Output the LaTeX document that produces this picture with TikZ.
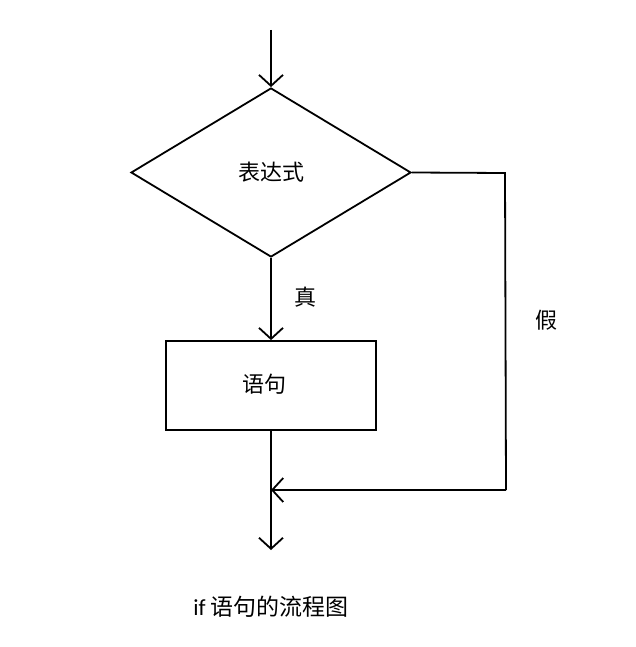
\documentclass[tikz,border=0pt]{standalone}
\usepackage{fontspec}
\setmainfont{Carlito}
\newfontfamily\cjk{Noto Sans CJK SC}
\usetikzlibrary{arrows.meta,shapes.geometric}
\begin{document}
\begin{tikzpicture}[x=1pt,y=-1pt,
  line/.style={line width=1.8pt},
  arr/.style={line, -{Straight Barb[length=11pt,width=24pt,line width=1.8pt]}},
  lbl/.style={font=\cjk\fontsize{22}{26}\selectfont, inner sep=0pt}]
\useasboundingbox (0,0) rectangle (635,647);
% nodes
\coordinate (start) at (271,30);
\node[line, draw, diamond, aspect=1.657, minimum width=280pt, minimum height=169pt, inner sep=0pt] (cond) at (271,172.5) {};
\node[lbl] at (cond.center) {表达式};
\node[line, draw, rectangle, minimum width=210pt, minimum height=89pt, inner sep=0pt] (stmt) at (271,385.5) {};
\node[lbl] at (264,384) {语句};
\coordinate (c1) at (505,173);
\coordinate (c2) at (506,490);
\coordinate (merge) at (271,490);
\coordinate (end) at (271,550);
% connectors
\draw[arr] (start) -- (cond.north);
\draw[arr] (cond.south) -- (stmt.north);
\draw[line] (cond.east) -- (c1) -- (c2);
\draw[arr] (c2) -- (merge);
\draw[arr] (stmt.south) -- (end);
% labels
\node[lbl] (t) at (305,297) {真};
\node[lbl] (f) at (546,320) {假};
\node[inner sep=0pt, font=\fontsize{23}{27}\selectfont] (cap) at (271,607) {if {\cjk 语句的流程图}};
\end{tikzpicture}
\end{document}
